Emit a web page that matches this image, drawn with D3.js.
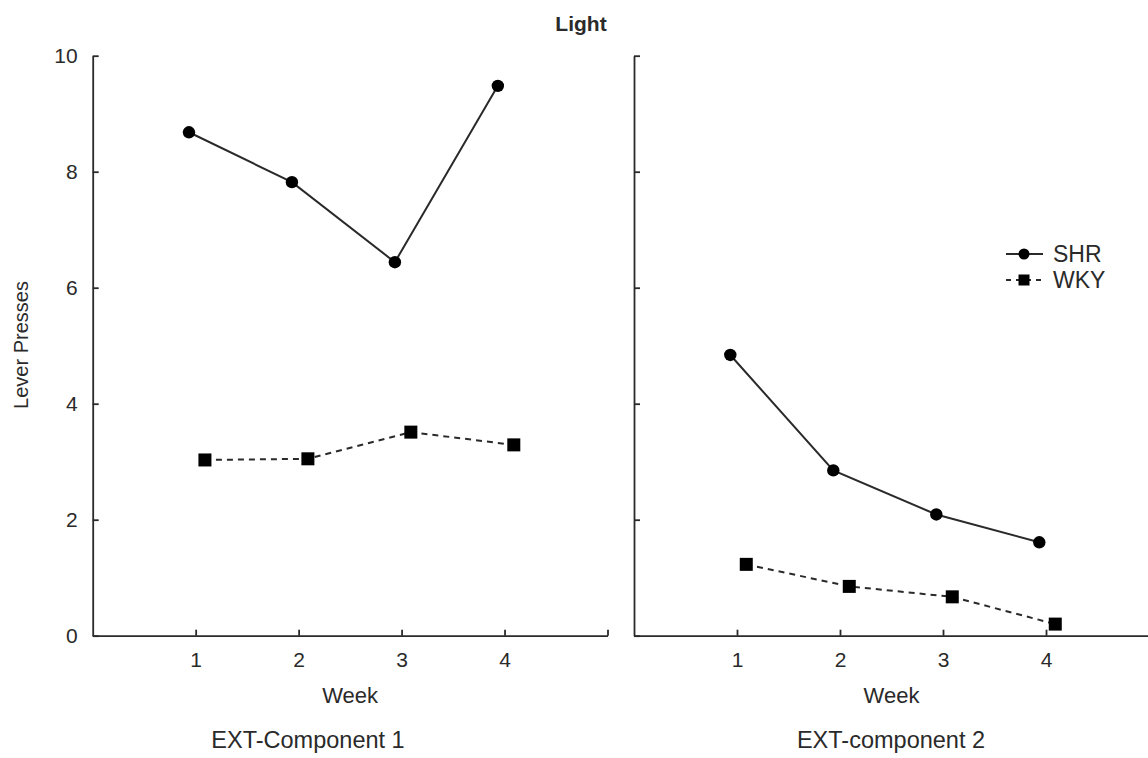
<!DOCTYPE html>
<html>
<head>
<meta charset="utf-8">
<script src="https://cdn.jsdelivr.net/npm/d3@7"></script>
<style>
  html, body { margin: 0; padding: 0; background: #fff; }
  svg { display: block; font-family: "Liberation Sans", Arial, sans-serif; }
  text { fill: #2a2a2a; }
</style>
</head>
<body>
<svg id="chart" width="1148" height="758"></svg>
<script>
// ---- data ----
const weeks = [1, 2, 3, 4];
const weekTicks = ["1", "2", "3", "4"];
const yTicks = [0, 2, 4, 6, 8, 10];
const panelTitles = ["EXT-Component 1", "EXT-component 2"];
const seriesNames = ["SHR", "WKY"];
const shrComp1 = [8.68, 7.82, 6.44, 9.48];
const wkyComp1 = [3.03, 3.05, 3.51, 3.29];
const shrComp2 = [4.84, 2.85, 2.09, 1.61];
const wkyComp2 = [1.23, 0.85, 0.67, 0.20];
const chartTitle = "Light";
const yLabel = "Lever Presses";
const xLabel = "Week";

// ---- layout ----
const svg = d3.select("#chart");
const ink = "#2a2a2a";
const y = d3.scaleLinear().domain([0, 10]).range([635.7, 55.7]);
const panels = [
  { x0: 92.7, x1: 607.5, shr: shrComp1, wky: wkyComp1, title: panelTitles[0], titleX: 308, labels: true },
  { x0: 634, x1: 1149, shr: shrComp2, wky: wkyComp2, title: panelTitles[1], titleX: 891, labels: false }
];
const dodge = { SHR: -0.065, WKY: 0.09 };

svg.append("text")
  .attr("x", 581).attr("y", 31)
  .attr("text-anchor", "middle")
  .attr("font-size", 21).attr("font-weight", "bold")
  .text(chartTitle);

svg.append("text")
  .attr("transform", "translate(28,345) rotate(-90)")
  .attr("text-anchor", "middle")
  .attr("font-size", 20)
  .text(yLabel);

panels.forEach(p => {
  const x = d3.scaleLinear().domain([0, 5]).range([p.x0, p.x1]);
  const g = svg.append("g");

  const yAxis = d3.axisLeft(y).tickValues(yTicks)
    .tickSizeInner(-6).tickSizeOuter(0).tickPadding(15)
    .tickFormat(p.labels ? d3.format("d") : () => "");
  const ya = g.append("g").attr("transform", `translate(${p.x0},0)`).call(yAxis);

  const xAxis = d3.axisBottom(x).tickValues([...weeks, 5])
    .tickSizeInner(-6).tickSizeOuter(0).tickPadding(16)
    .tickFormat((d, i) => i < weekTicks.length ? weekTicks[i] : "");
  const xa = g.append("g").attr("transform", `translate(0,${y(0)})`).call(xAxis);

  [ya, xa].forEach(a => {
    a.selectAll("path, line").attr("stroke", ink).attr("stroke-width", 1.8);
    a.selectAll("text").attr("font-size", 21).attr("fill", ink)
      .attr("font-family", '"Liberation Sans", Arial, sans-serif');
  });

  const line = d3.line().x(d => x(d[0])).y(d => y(d[1]));
  const shrPts = weeks.map((w, i) => [w + dodge.SHR, p.shr[i]]);
  const wkyPts = weeks.map((w, i) => [w + dodge.WKY, p.wky[i]]);

  g.append("path").datum(shrPts).attr("d", line)
    .attr("fill", "none").attr("stroke", ink).attr("stroke-width", 2);
  g.append("path").datum(wkyPts).attr("d", line)
    .attr("fill", "none").attr("stroke", ink).attr("stroke-width", 2)
    .attr("stroke-dasharray", "6,5");

  g.selectAll(".shr").data(shrPts).enter().append("circle")
    .attr("cx", d => x(d[0])).attr("cy", d => y(d[1])).attr("r", 6.2)
    .attr("fill", "#000");
  const s = 13;
  g.selectAll(".wky").data(wkyPts).enter().append("rect")
    .attr("x", d => x(d[0]) - s / 2).attr("y", d => y(d[1]) - s / 2)
    .attr("width", s).attr("height", s).attr("fill", "#000");

  svg.append("text")
    .attr("x", (p.x0 + p.x1) / 2).attr("y", 703)
    .attr("text-anchor", "middle").attr("font-size", 22)
    .text(xLabel);
  svg.append("text")
    .attr("x", p.titleX).attr("y", 748)
    .attr("text-anchor", "middle").attr("font-size", 23.5)
    .text(p.title);
});

// ---- legend ----
const leg = svg.append("g");
seriesNames.forEach((name, i) => {
  const ly = 254 + i * 26;
  leg.append("line").attr("x1", 1006).attr("x2", 1043).attr("y1", ly).attr("y2", ly)
    .attr("stroke", ink).attr("stroke-width", 2)
    .attr("stroke-dasharray", name === "WKY" ? "5,5" : null);
  if (name === "SHR") {
    leg.append("circle").attr("cx", 1024).attr("cy", ly).attr("r", 5.5).attr("fill", "#000");
  } else {
    leg.append("rect").attr("x", 1024 - 5.5).attr("y", ly - 5.5).attr("width", 11).attr("height", 11).attr("fill", "#000");
  }
  leg.append("text").attr("x", 1053).attr("y", ly + 8.3)
    .attr("font-size", 23).text(name);
});
</script>
</body>
</html>
